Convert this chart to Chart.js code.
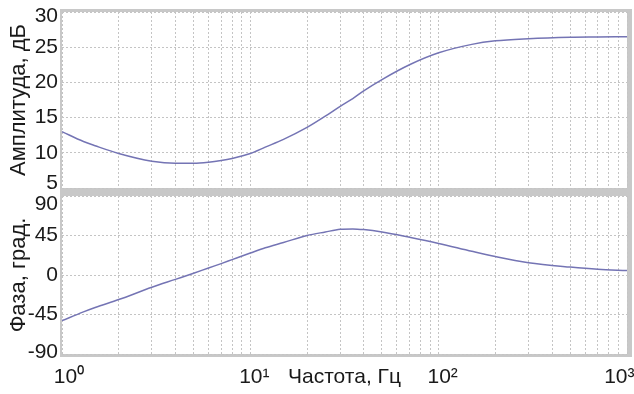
<!DOCTYPE html>
<html>
<head>
<meta charset="utf-8">
<script src="https://cdn.jsdelivr.net/npm/chart.js@4/dist/chart.umd.min.js"></script>
<style>
  html, body { margin: 0; padding: 0; background: #fff; }
  #wrap { position: relative; width: 634px; height: 394px; }
  canvas { position: absolute; left: 0; top: 0; }
</style>
</head>
<body>
<div id="wrap">
  <canvas id="ampChart" width="634" height="394"></canvas>
  <canvas id="phaseChart" width="634" height="394"></canvas>
</div>
<script>
// --- data ---
const freqs = [1, 1.3, 1.5, 2, 3, 4, 5, 6, 7, 8, 10, 12, 15, 20, 25, 30, 35, 40, 50, 70, 100, 150, 200, 300, 500, 700, 1000];
const amplitude = [13.0, 11.6, 11.0, 9.9, 8.8, 8.5, 8.5, 8.65, 8.9, 9.2, 9.9, 10.8, 11.9, 13.6, 15.2, 16.6, 17.7, 18.8, 20.4, 22.5, 24.2, 25.4, 25.9, 26.2, 26.4, 26.45, 26.5];
const phase = [-52, -42, -37, -28, -14, -5, 2, 8, 13, 17.5, 25, 31, 37, 45, 49, 52, 52.5, 51.7, 49, 43, 36, 27, 21, 14, 9, 6.5, 5];

const xGridValues = [1, 2, 3, 4, 5, 6, 7, 8, 9, 10, 20, 30, 40, 50, 60, 70, 80, 90,
                     100, 200, 300, 400, 500, 600, 700, 800, 900, 1000];
// spaces nudge the end labels inwards, like the original plot
const xTickLabels = { 1: " 10\u2070", 10: "10\u00b9", 100: "10\u00b2", 1000: "10\u00b3    " };

const ampTitle = "Амплитуда, дБ";
const phaseTitle = "Фаза, град.";
const freqTitle = "Частота, Гц";

// --- common styling ---
Chart.defaults.font.family = "'Liberation Sans', Arial, sans-serif";
Chart.defaults.color = "#1a1a1a";
const lineColor = "#7474b4";
const gridColor = "#c4c4c4";

// grey frame behind each plot area
const framePlugin = {
    id: "frame",
    beforeDraw(chart, args, opts) {
        const { ctx, chartArea: a } = chart;
        ctx.save();
        ctx.fillStyle = "#c8c8c8";
        ctx.fillRect(a.left - 2, a.top - opts.padTop, a.right - a.left + 7, a.bottom - a.top + opts.padTop + opts.padBottom);
        ctx.fillStyle = "#fff";
        ctx.fillRect(a.left, a.top, a.right - a.left, a.bottom - a.top);
        ctx.restore();
    }
};

function points(ys) {
    return freqs.map((f, i) => ({ x: f, y: ys[i] }));
}

function xAxis(showLabels) {
    return {
        type: "logarithmic",
        min: 1,
        max: 1000,
        afterBuildTicks: s => { s.ticks = xGridValues.map(v => ({ value: v })); },
        afterFit: s => {
            s.height = showLabels ? 40 : 0;
            s.paddingLeft = 0;
            s.paddingRight = 0;
        },
        ticks: {
            display: showLabels,
            autoSkip: false,
            maxRotation: 0,
            padding: 11,
            labelOffset: 4,
            font: { size: 21 },
            callback: v => xTickLabels[v] || ""
        },
        grid: { color: gridColor, drawTicks: false },
        border: { display: false, dash: [2, 2] },
        title: {
            display: showLabels,
            text: freqTitle,
            font: { size: 21 },
            padding: { top: 0, bottom: 4 }
        }
    };
}

// end labels of the y axes sit a bit inside the frame (shift, px)
function yAxis(min, max, step, title, shifts) {
    return {
        min: min,
        max: max,
        afterFit: s => { s.width = 62; },
        ticks: {
            stepSize: step,
            padding: 4,
            font: c => {
                const sh = c.tick ? shifts[c.tick.value] : undefined;
                return sh ? { size: 21, lineHeight: Math.abs(sh) * 2 + "px" } : { size: 21 };
            },
            callback: v => {
                const sh = shifts[v];
                if (!sh) return String(v);
                return sh > 0 ? ["", String(v)] : [String(v), ""];
            }
        },
        grid: { color: gridColor, drawTicks: false },
        border: { display: false, dash: [2, 2] },
        title: { display: true, text: title, font: { size: 22 }, padding: { top: 6, bottom: 0 } }
    };
}

function dataset(ys) {
    return {
        data: points(ys),
        borderColor: lineColor,
        borderWidth: 1.5,
        pointRadius: 0,
        tension: 0.4,
        cubicInterpolationMode: "monotone",
        fill: false
    };
}

// --- amplitude chart (top) ---
new Chart(document.getElementById("ampChart").getContext("2d"), {
    type: "line",
    data: { datasets: [dataset(amplitude)] },
    options: {
        responsive: false,
        animation: false,
        layout: { padding: { left: 0, top: 10, right: 7, bottom: 206 } },
        plugins: {
            legend: { display: false },
            tooltip: { enabled: false },
            frame: { padTop: 3, padBottom: 4 }
        },
        scales: {
            x: xAxis(false),
            y: yAxis(5, 30, 5, ampTitle, { 30: 4, 5: -5 })
        }
    },
    plugins: [framePlugin]
});

// --- phase chart (bottom) ---
new Chart(document.getElementById("phaseChart").getContext("2d"), {
    type: "line",
    data: { datasets: [dataset(phase)] },
    options: {
        responsive: false,
        animation: false,
        layout: { padding: { left: 0, top: 196, right: 7, bottom: 0 } },
        plugins: {
            legend: { display: false },
            tooltip: { enabled: false },
            frame: { padTop: 4, padBottom: 3 }
        },
        scales: {
            x: xAxis(true),
            y: yAxis(-90, 90, 45, phaseTitle, { 90: 8, "-90": -2 })
        }
    },
    plugins: [framePlugin]
});
</script>
</body>
</html>
